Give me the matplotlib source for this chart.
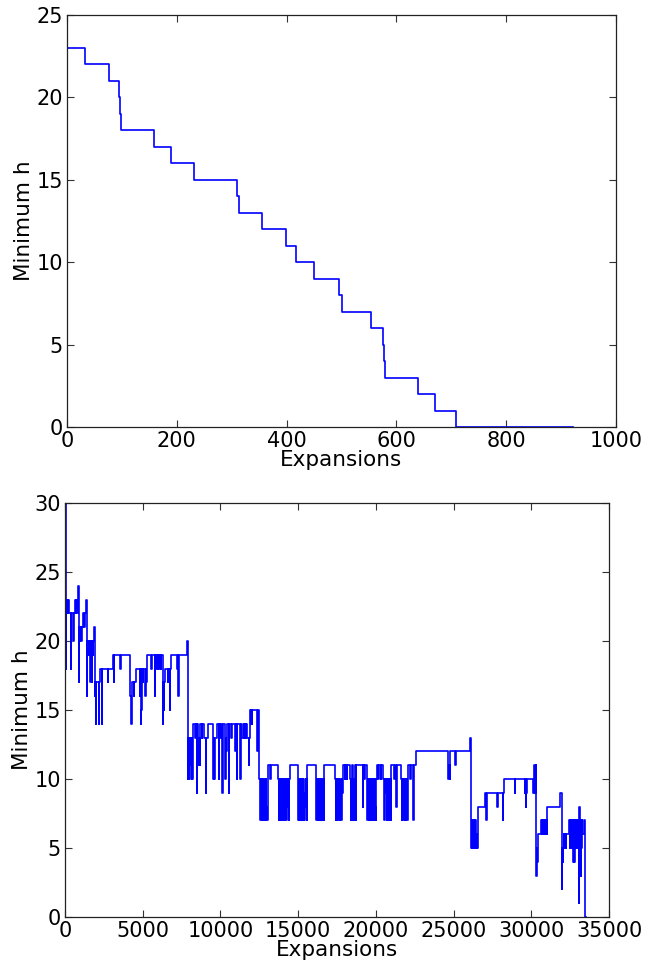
import matplotlib
matplotlib.use("Agg")
import matplotlib.pyplot as plt

# ---- top panel: minimum h vs expansions (step changes) ----
top_x = [0, 33, 77, 95, 96, 98, 159, 189, 232, 310, 313, 356, 399, 417, 450,
         496, 500, 553, 575, 577, 579, 640, 671, 708, 921]
top_y = [23, 22, 21, 20, 19, 18, 17, 16, 15, 14, 13, 12, 11, 10, 9,
         8, 7, 6, 5, 4, 3, 2, 1, 0, 0]

# ---- bottom panel: minimum h vs expansions (breakpoints, value holds until next) ----
bot_x = [
    0, 45, 70, 107, 172, 200, 236, 380, 410, 515, 560, 620, 686, 710, 794, 836, 870, 900,
    922, 944, 970, 1000, 1030, 1060, 1090, 1137, 1201, 1280, 1373, 1416, 1440, 1480, 1510,
    1540, 1570, 1600, 1630, 1660, 1690, 1720, 1737, 1760, 1800, 1830, 1866, 1930, 1960,
    1995, 2020, 2166, 2190, 2274, 2381, 2410, 2746, 2780, 3089, 3130, 3160, 3561, 3625,
    4204, 4247, 4280, 4419, 4450, 4569, 4805, 4840, 4860, 4890, 4910,
    4933, 4998, 5040, 5148, 5190, 5230, 5255, 5297, 5512, 5577, 5791, 5820, 5855, 5900,
    5960, 6000, 6050, 6100, 6155, 6200, 6284, 6310, 6340, 6370, 6440, 6606, 6640, 6756,
    6780, 6798, 7185, 7250, 7293, 7320, 7828,
    7893, 7930, 7970, 8000, 8040, 8070, 8110, 8140, 8180, 8216, 8258, 8380, 8410, 8494,
    8520, 8537, 8570, 8600, 8630, 8660, 8687, 8794, 8830, 8944, 9073, 9100, 9223, 9502,
    9545, 9580, 9610, 9640, 9760, 9908, 9930, 9951, 10016, 10120, 10150, 10273, 10316,
    10340, 10380, 10400, 10423, 10445, 10552, 10580, 10659, 10745, 10916, 10960, 10990,
    11024, 11066, 11090, 11238, 11281, 11310, 11346, 11388, 11496, 11517, 11580, 11620,
    11667, 11731, 11838, 11860, 11881, 11946, 11990, 12020, 12053, 12375, 12400,
    12504, 12540, 12580, 12620, 12650, 12680, 12720, 12750, 12790, 12820, 12860, 12890,
    12930, 12960, 13000, 13030, 13062, 13212, 13276,
    13705, 13740, 13780, 13810, 13850, 13880, 13920, 13950, 13990, 14020, 14060, 14100,
    14130, 14170, 14200, 14241, 14280, 14330, 14370, 14410, 14440, 14456,
    14970, 15000, 15040, 15070, 15110, 15140, 15180, 15220, 15250, 15290, 15330, 15370,
    15400, 15440, 15480, 15506, 15540, 15560, 15571,
    16150, 16180, 16220, 16250, 16290, 16320, 16360, 16390, 16430, 16460, 16500, 16540,
    16580, 16620, 16650, 16670, 16686,
    17394, 17420, 17460, 17490, 17530, 17560, 17600, 17640, 17694, 17720, 17780, 17810,
    17840, 17866, 18016, 18040, 18123, 18150,
    18338, 18402, 18430, 18470, 18510, 18540, 18580, 18620, 18660, 18724, 18750,
    19153, 19180, 19260, 19290,
    19432, 19460, 19500, 19530, 19570, 19600, 19640, 19680, 19710, 19750, 19780, 19820,
    19860, 19890, 19930, 19960, 19990, 20020, 20053, 20150, 20180, 20300, 20330,
    20482, 20530, 20560, 20600, 20640, 20700, 20730, 20770, 20810, 20850, 20880, 20920,
    20950, 20980, 20997, 21190, 21220, 21319, 21345,
    21640, 21670, 21710, 21740, 21780, 21810, 21850, 21890, 21920, 21960, 21990, 22030,
    22050, 22069, 22200, 22230, 22412, 22440, 22562,
    24667, 24700, 24750, 24790, 25115, 25160, 26061,
    26125, 26160, 26200, 26230, 26270, 26300, 26340, 26370, 26410, 26440, 26480, 26510,
    26550, 26575, 27047, 27100, 27130, 27797, 27830, 28162, 28190, 28269, 28934, 28977,
    29578, 29620, 29664, 29690, 29728, 30136, 30160, 30175, 30240, 30282, 30325, 30347,
    30390, 30410, 30432, 30625, 30660, 30700, 30740, 30780, 30820, 30860, 30900, 30940,
    30980, 31010, 31033, 31852, 31981, 32000, 32030, 32067, 32100, 32130, 32170, 32210,
    32250, 32281, 32431, 32470, 32500, 32540, 32570, 32600, 32640, 32680, 32710, 32740,
    32774, 32800, 32840, 32880, 32920, 32960, 33000, 33040, 33074, 33100, 33120, 33150,
    33181, 33210, 33250, 33289, 33417, 33480, 33500,
]
bot_y = [
    30, 18, 22, 23, 22, 23, 22, 18, 22, 20, 22, 23, 22, 23, 22, 24, 17, 22,
    21, 20, 21, 20, 21, 20, 21, 22, 21, 22, 23, 16, 20, 19, 20,
    19, 20, 19, 17, 20, 19, 20, 17, 20, 19, 20, 21, 16, 17,
    14, 17, 14, 17, 18, 14, 18, 17, 18, 19, 17, 19, 18, 19,
    16, 14, 17, 16, 17, 18, 16, 18, 14, 17, 15,
    18, 17, 18, 16, 18, 17, 18, 19, 18, 19, 16, 19, 18, 19,
    18, 19, 18, 19, 18, 19, 14, 17, 15, 17, 18, 17, 18, 15,
    18, 19, 18, 19, 16, 19, 20,
    10, 13, 10, 13, 11, 13, 10, 13, 10, 13, 14, 13, 14, 9,
    14, 11, 13, 12, 13, 11, 14, 13, 14, 13, 9, 13, 14, 13,
    10, 13, 10, 13, 14, 10, 14, 13, 14, 9, 14, 13, 10,
    13, 12, 13, 12, 14, 9, 14, 13, 14, 13, 12, 13,
    14, 10, 14, 13, 10, 13, 14, 13, 14, 13, 14, 13,
    14, 13, 11, 13, 15, 14, 15, 14, 15, 12, 15,
    10, 7, 10, 8, 10, 7, 10, 7, 9, 7, 10, 7,
    10, 8, 7, 10, 11, 10, 11,
    10, 7, 10, 7, 9, 7, 10, 7, 10, 8, 7, 10,
    7, 10, 9, 7, 10, 8, 10, 7, 10, 11,
    10, 7, 10, 7, 10, 8, 7, 10, 7, 10, 7, 9,
    7, 10, 8, 10, 7, 10, 11,
    10, 7, 10, 7, 10, 7, 9, 7, 10, 7, 10, 8,
    7, 10, 7, 10, 11,
    10, 7, 10, 7, 10, 7, 10, 9, 7, 10, 7, 10,
    9, 11, 10, 11, 10, 11,
    10, 7, 10, 11, 7, 10, 7, 10, 11, 7, 11,
    8, 11, 10, 11,
    10, 7, 10, 7, 10, 8, 7, 10, 7, 10, 9, 7,
    10, 7, 10, 8, 7, 10, 11, 10, 11, 10, 11,
    10, 7, 10, 9, 10, 7, 10, 7, 10, 9, 7, 10,
    7, 10, 11, 10, 11, 8, 11,
    10, 7, 10, 7, 10, 9, 7, 10, 7, 10, 8, 7,
    10, 11, 10, 11, 7, 11, 12,
    10, 11, 10, 12, 11, 12, 13,
    5, 7, 5, 7, 6, 5, 7, 5, 7, 5, 6, 5,
    7, 8, 9, 7, 9, 8, 9, 7, 9, 10, 9, 10,
    9, 10, 8, 9, 10, 9, 10, 11, 9, 11, 3, 5,
    4, 5, 6, 7, 6, 7, 6, 7, 6, 7, 6, 7,
    6, 7, 8, 9, 2, 5, 4, 5, 6, 5, 6, 5,
    6, 6, 7, 5, 7, 6, 7, 5, 7, 5, 4, 7,
    4, 7, 5, 7, 5, 7, 5, 7, 1, 8, 5, 7,
    3, 5, 7, 6, 7, 0, 0,
]

top_xticks = [0, 200, 400, 600, 800, 1000]
top_yticks = [0, 5, 10, 15, 20, 25]
bot_xticks = [0, 5000, 10000, 15000, 20000, 25000, 30000, 35000]
bot_yticks = [0, 5, 10, 15, 20, 25, 30]

plt.rcParams['font.family'] = ['DejaVu Sans']
fig = plt.figure(figsize=(6.63, 9.66), dpi=100, facecolor='white')

ax1 = fig.add_axes([67/663, 1 - 427/966, (616-67)/663, (427-15)/966])
ax2 = fig.add_axes([65/663, 1 - 917/966, (609-65)/663, (917-503)/966])

ax1.plot(top_x, top_y, drawstyle='steps-post', color='#0000ff', lw=1.2)
ax2.plot(bot_x, bot_y, drawstyle='steps-post', color='#0000ff', lw=1.2)

for ax, xt, yt, xl, yl in [(ax1, top_xticks, top_yticks, (0, 1000), (0, 25)),
                           (ax2, bot_xticks, bot_yticks, (0, 35000), (0, 30))]:
    ax.set_xlim(*xl)
    ax.set_ylim(*yl)
    ax.set_xticks(xt)
    ax.set_yticks(yt)
    ax.tick_params(direction='in', top=True, right=True, length=5, width=0.8,
                   labelsize=15, pad=3, color='#333333')
    ax.set_xlabel('Expansions', fontsize=15.5, labelpad=-1)
    ax.set_ylabel('Minimum h', fontsize=15.5, labelpad=2)
    for s in ax.spines.values():
        s.set_linewidth(0.9)
        s.set_color('#222222')

fig.savefig('out.png', dpi=100, facecolor='white')
